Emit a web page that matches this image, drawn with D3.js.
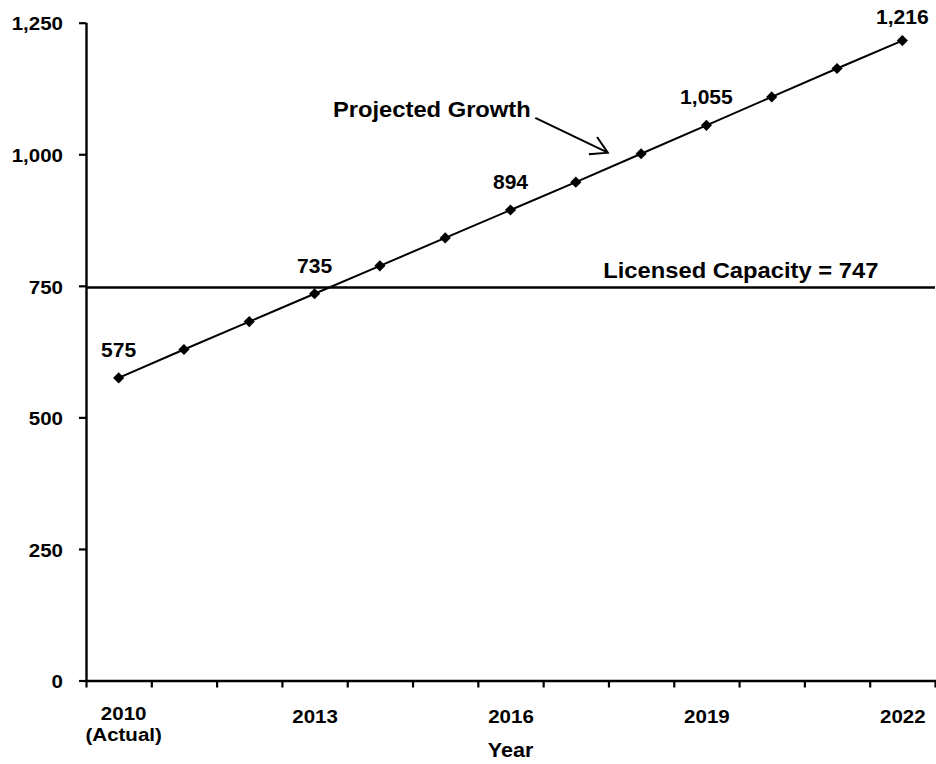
<!DOCTYPE html>
<html>
<head>
<meta charset="utf-8">
<script src="https://cdn.jsdelivr.net/npm/d3@7"></script>
<style>
  html, body { margin: 0; padding: 0; background: #fff; }
  svg { display: block; font-family: "Liberation Sans", Arial, sans-serif; font-weight: bold; }
</style>
</head>
<body>
<svg id="chart" width="936" height="764"></svg>
<script>
// ---- data ----
const years = [2010, 2011, 2012, 2013, 2014, 2015, 2016, 2017, 2018, 2019, 2020, 2021, 2022];
const enrollment = [575, 629, 682, 735, 788, 841, 894, 947, 1001, 1055, 1109, 1163, 1216];
const labeledYears = [2010, 2013, 2016, 2019, 2022];
const xTickText = ["2010\n(Actual)", "2013", "2016", "2019", "2022"];
const yTicks = [0, 250, 500, 750, 1000, 1250];
const capacity = 747;
const capacityLabel = "Licensed Capacity = 747";
const growthLabel = "Projected Growth";
const xTitle = "Year";
// annotation anchor points in data units [year, value]
const growthTextAt = [2016.31, 1071];
const arrowFrom = [2016.38, 1069];
const arrowTo = [2017.49, 1003];
const capacityTextAt = [2017.42, 765];

// ---- layout ----
const mLeft = 86, mRight = 935, mTop = 22.7, mBottom = 680.5;
const K = 1.08; // horizontal text stretch

const svg = d3.select("#chart");
const x = d3.scaleLinear().domain([years[0] - 0.5, years[years.length - 1] + 0.5]).range([mLeft, mRight]);
const y = d3.scaleLinear().domain([0, 1250]).range([mBottom, mTop]);

function stretch(sel) {
  sel.each(function () {
    const t = d3.select(this);
    const tx = +t.attr("x") || 0, ty = +t.attr("y") || 0;
    t.attr("transform", `translate(${tx},${ty}) scale(${K},1)`).attr("x", 0).attr("y", 0);
    t.selectAll("tspan").attr("x", 0);
  });
}

// y axis
const yAxis = svg.append("g")
  .attr("transform", `translate(${mLeft},0)`)
  .call(d3.axisLeft(y).tickValues(yTicks).tickFormat(d3.format(",")).tickSize(7).tickPadding(16));
yAxis.select(".domain").attr("stroke", "#000").attr("stroke-width", 2.4).attr("d", `M0.5,${mBottom}V${mTop}`);
yAxis.selectAll(".tick line").attr("stroke", "#000").attr("stroke-width", 2.2);
yAxis.selectAll(".tick text")
  .attr("fill", "#000").attr("font-size", 19).attr("font-family", "Liberation Sans, Arial, sans-serif")
  .attr("font-weight", "bold").attr("dy", "0.38em").call(stretch);

// x axis boundary ticks
const boundaries = d3.range(years[0] - 0.5, years[years.length - 1] + 1, 1);
const xAxis = svg.append("g")
  .attr("transform", `translate(0,${mBottom})`)
  .call(d3.axisBottom(x).tickValues(boundaries).tickFormat("").tickSize(7));
xAxis.select(".domain").attr("stroke", "#000").attr("stroke-width", 2.4).attr("d", `M${mLeft},0.5H${mRight + 1}`);
xAxis.selectAll(".tick line").attr("stroke", "#000").attr("stroke-width", 2.2);

// x axis labels
const xLab = svg.append("g")
  .attr("transform", `translate(0,${mBottom})`)
  .call(d3.axisBottom(x).tickValues(labeledYears).tickFormat((d, i) => xTickText[i]).tickSize(0));
xLab.select(".domain").remove();
xLab.selectAll(".tick text").each(function (d, i) {
  const t = d3.select(this);
  const lines = xTickText[i].split("\n");
  t.text(null).attr("dy", 0).attr("fill", "#000").attr("font-size", 19)
    .attr("font-family", "Liberation Sans, Arial, sans-serif").attr("font-weight", "bold");
  if (lines.length === 1) {
    t.attr("y", 42.5).attr("x", 0).text(lines[0]);
  } else {
    t.attr("y", 39.5).attr("x", 4.5);
    lines.forEach((ln, j) => t.append("tspan").attr("x", 0).attr("dy", j === 0 ? 0 : 21).text(ln));
  }
}).call(stretch);

// x title
svg.append("text")
  .attr("x", (mLeft + mRight) / 2).attr("y", 756.5)
  .attr("text-anchor", "middle").attr("font-size", 20).attr("fill", "#000")
  .text(xTitle).call(stretch);

// capacity line
svg.append("line")
  .attr("x1", x(years[0] - 0.5)).attr("x2", x(years[years.length - 1] + 0.5))
  .attr("y1", y(capacity)).attr("y2", y(capacity))
  .attr("stroke", "#000").attr("stroke-width", 2.5);
svg.append("text")
  .attr("x", x(capacityTextAt[0])).attr("y", y(capacityTextAt[1]))
  .attr("font-size", 22).attr("fill", "#000").text(capacityLabel).call(stretch);

// projected line
const pts = years.map((yr, i) => [x(yr), y(enrollment[i])]);
svg.append("path")
  .attr("d", d3.line()(pts))
  .attr("fill", "none").attr("stroke", "#000").attr("stroke-width", 2);

// diamond markers
const diamond = d3.symbol().type(d3.symbolSquare).size(62);
svg.append("g").selectAll("path")
  .data(pts).join("path")
  .attr("d", diamond)
  .attr("transform", d => `translate(${d[0]},${d[1]}) rotate(45)`)
  .attr("fill", "#000");

// data labels
svg.append("g").selectAll("text")
  .data(labeledYears).join("text")
  .attr("x", d => x(d))
  .attr("y", d => Math.max(y(enrollment[years.indexOf(d)]) - 21, 24))
  .attr("text-anchor", "middle").attr("font-size", 19.5).attr("fill", "#000")
  .text(d => d3.format(",")(enrollment[years.indexOf(d)]))
  .call(stretch);

// projected growth annotation
svg.append("text")
  .attr("x", x(growthTextAt[0])).attr("y", y(growthTextAt[1]))
  .attr("text-anchor", "end").attr("font-size", 22).attr("fill", "#000")
  .text(growthLabel).call(stretch);

const ax0 = x(arrowFrom[0]), ay0 = y(arrowFrom[1]);
const ax1 = x(arrowTo[0]), ay1 = y(arrowTo[1]);
const ang = Math.atan2(ay1 - ay0, ax1 - ax0) + Math.PI;
const bl = 19, spread = Math.PI / 6;
const b1 = [ax1 + bl * Math.cos(ang + spread), ay1 + bl * Math.sin(ang + spread)];
const b2 = [ax1 + bl * Math.cos(ang - spread), ay1 + bl * Math.sin(ang - spread)];
svg.append("path")
  .attr("d", d3.line()([[ax0, ay0], [ax1, ay1]]) + d3.line()([b1, [ax1, ay1], b2]))
  .attr("fill", "none").attr("stroke", "#000").attr("stroke-width", 2).attr("stroke-linejoin", "miter");
</script>
</body>
</html>
